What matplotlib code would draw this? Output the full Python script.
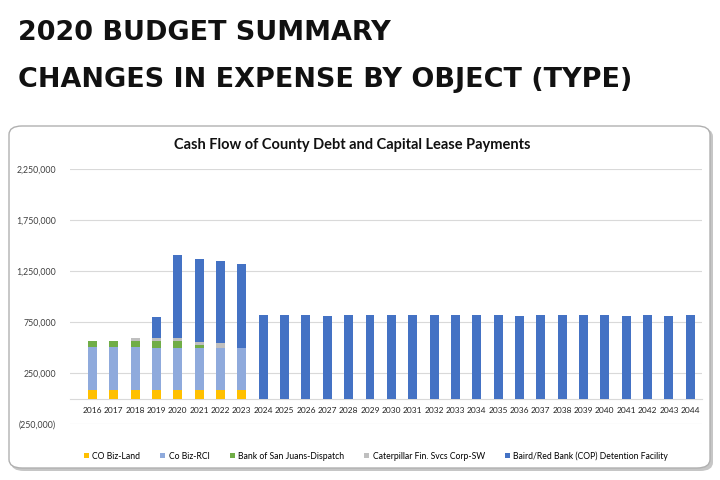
import matplotlib
matplotlib.use("Agg")
import matplotlib.pyplot as plt
from matplotlib import font_manager as fm
from matplotlib.patches import FancyBboxPatch
from matplotlib.ticker import FuncFormatter

years = [str(y) for y in range(2016, 2045)]

co_biz_land = [80000] * 8 + [0] * 21
co_biz_rci = [425000, 425000, 425000, 420000, 420000, 420000, 420000, 420000] + [0] * 21
bank_san_juans = [55000, 55000, 57000, 60000, 60000, 25000, 0, 0] + [0] * 21
caterpillar = [0, 0, 32000, 30000, 30000, 27000, 40000, 0] + [0] * 21
baird_red_bank = [0, 0, 0, 210000, 813000, 812000, 812000, 816000,
                  820000, 820000, 820000, 810000, 820000, 820000, 820000, 820000,
                  820000, 820000, 820000, 820000, 810000, 820000, 820000, 820000,
                  820000, 810000, 820000, 810000, 820000]

series = [
    ("CO Biz-Land", co_biz_land, "#FFC000"),
    ("Co Biz-RCI", co_biz_rci, "#8FAADC"),
    ("Bank of San Juans-Dispatch", bank_san_juans, "#70AD47"),
    ("Caterpillar Fin. Svcs Corp-SW", caterpillar, "#BFBFBF"),
    ("Baird/Red Bank (COP) Detention Facility", baird_red_bank, "#4472C4"),
]

# pick a condensed face for the header if one is installed
narrow = [f.name for f in fm.fontManager.ttflist
          if f.stretch in ("condensed", "semi-condensed", "extra-condensed")
          or "Narrow" in f.name or "Condensed" in f.name]
head_font = (narrow[:1] or []) + ["Roboto", "DejaVu Sans"]

W, H = 720, 480
fig = plt.figure(figsize=(7.2, 4.8), dpi=100)
fig.patch.set_facecolor("white")

# header, sized so the lines span the same width as the reference
h1 = fig.text(18 / W, 1 - 33 / H, "2020 BUDGET SUMMARY", family=head_font,
              fontweight="bold", fontsize=30, va="center", ha="left", color="#111111")
h2 = fig.text(18 / W, 1 - 80 / H, "CHANGES IN EXPENSE BY OBJECT (TYPE)",
              family=head_font, fontweight="bold", fontsize=30, va="center",
              ha="left", color="#111111")
renderer = fig.canvas.get_renderer()
w2 = h2.get_window_extent(renderer).width
size = min(30 * 614 / w2, 34)
h1.set_fontsize(size)
h2.set_fontsize(size)

# chart panel with shadow
shadow = FancyBboxPatch((11 / W, 9 / H), 702 / W, 343 / H,
                        boxstyle="round,pad=0,rounding_size=0.018",
                        transform=fig.transFigure, facecolor="#a0a0a0",
                        edgecolor="none", alpha=0.6, zorder=-2)
panel = FancyBboxPatch((9 / W, 12 / H), 701 / W, 342 / H,
                       boxstyle="round,pad=0,rounding_size=0.018",
                       transform=fig.transFigure, facecolor="white",
                       edgecolor="#b0b0b0", linewidth=1.0, zorder=-1)
fig.patches.extend([shadow, panel])

ax = fig.add_axes([70 / W, 1 - 424 / H, 632 / W, 255 / H])
ax.set_facecolor("none")
ax.set_zorder(1)

x = range(len(years))
bottom = [0] * len(years)
for name, vals, color in series:
    ax.bar(x, vals, bottom=bottom, width=0.42, color=color, label=name, zorder=3)
    bottom = [b + v for b, v in zip(bottom, vals)]

ax.set_ylim(-250000, 2250000)
ax.set_xlim(-1.05, len(years) - 0.45)
ax.set_yticks([-250000, 250000, 750000, 1250000, 1750000, 2250000])
ax.yaxis.set_major_formatter(FuncFormatter(
    lambda v, p: f"({abs(v):,.0f})" if v < 0 else f"{v:,.0f}"))
ax.set_xticks(list(x))
ax.set_xticklabels(years)

ax.grid(axis="y", color="#d9d9d9", linewidth=0.8, zorder=0)
for s in ["top", "right", "left"]:
    ax.spines[s].set_visible(False)
ax.spines["bottom"].set_position(("data", 0))
ax.spines["bottom"].set_color("#d9d9d9")
ax.tick_params(axis="both", length=0)
ax.tick_params(axis="y", labelsize=6.3, labelcolor="#404040", pad=10)
ax.tick_params(axis="x", labelsize=6.0, labelcolor="#222222", pad=6)
for lbl in ax.get_xticklabels() + ax.get_yticklabels():
    lbl.set_family(["Lato", "DejaVu Sans"])

fig.text(352 / W, 1 - 145 / H, "Cash Flow of County Debt and Capital Lease Payments",
         family=["Lato", "DejaVu Sans"], fontweight="bold", fontsize=10.5,
         ha="center", va="center", color="#111111")

fig.legend(loc="center", bbox_to_anchor=(376 / W, 1 - 456 / H), ncol=5,
           frameon=False, handlelength=0.6, handleheight=0.6,
           handletextpad=0.4, columnspacing=2.3,
           prop={"family": ["Lato", "DejaVu Sans"], "size": 6.2})

fig.savefig("out.png", dpi=100)
